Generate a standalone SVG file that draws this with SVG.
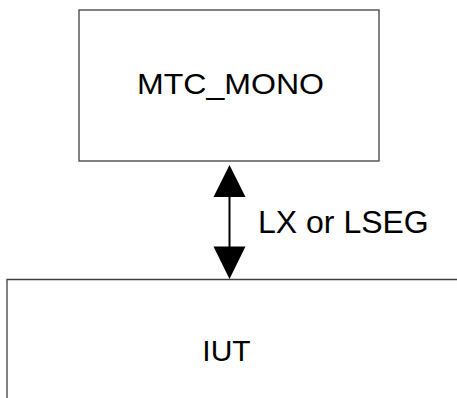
<svg xmlns="http://www.w3.org/2000/svg" width="457" height="398" viewBox="0 0 457 398">
<style>
.box{fill:#fff;stroke:#404040;stroke-width:1.3}
.lbl{font-family:"Liberation Sans",Arial,sans-serif;fill:#000}
.conn{stroke:#000;stroke-width:2;fill:none}
.head{fill:#000}
</style>
<rect width="457" height="398" fill="#fff"/>
<g id="node-mtc">
<rect class="box" x="79" y="10" width="300" height="151"/>
<text class="lbl" x="230.5" y="94.3" font-size="29.5" text-anchor="middle" textLength="187" lengthAdjust="spacingAndGlyphs">MTC_MONO</text>
</g>
<g id="node-iut">
<path class="box" d="M7,398 V279.5 H457"/>
<text class="lbl" x="226.5" y="361" font-size="30" text-anchor="middle">IUT</text>
</g>
<g id="connectors">
<line class="conn" x1="229.5" y1="196" x2="229.5" y2="247"/>
<polygon class="head" points="229.5,165 245.5,197 213.5,197"/>
<polygon class="head" points="229.5,279 245.5,246.5 213.5,246.5"/>
<text class="lbl" x="258" y="233.3" font-size="32">LX or LSEG</text>
</g>
</svg>
